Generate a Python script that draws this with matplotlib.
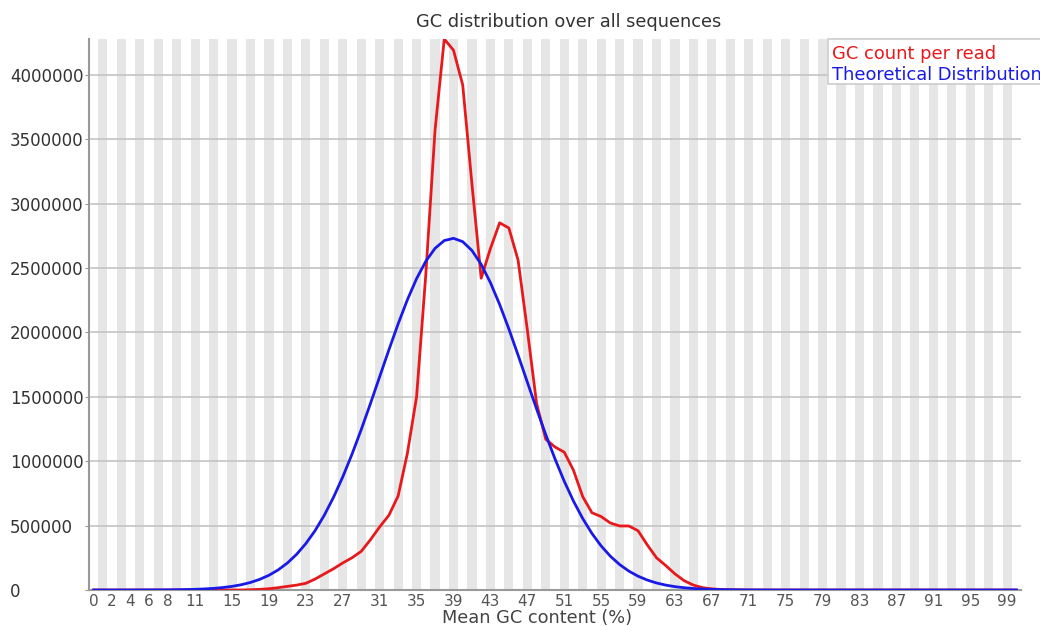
import numpy as np
import matplotlib
matplotlib.use("Agg")
import matplotlib.pyplot as plt
from matplotlib.patches import Rectangle

# mean GC content (%) categories 0..100
gc_pct = list(range(101))

# GC count per read (observed)
gc_count = [0] * 17 + [
    2000, 5000, 10000, 18000, 28000, 38000, 52000, 85000, 125000, 165000,      # 17-26
    210000, 250000, 300000, 390000, 490000, 580000, 730000, 1060000, 1500000,  # 27-35
    2450000, 3570000, 4277000, 4190000, 3920000, 3150000, 2420000, 2650000,    # 36-43
    2850000, 2810000, 2560000, 2020000, 1450000, 1170000, 1110000, 1070000,    # 44-51
    930000, 725000, 600000, 570000, 520000, 497000, 497000, 460000, 350000,    # 52-60
    250000, 190000, 125000, 72000, 38000, 18000, 9000, 4000, 2000, 1000,       # 61-70
] + [0] * 30

# theoretical distribution
theoretical = [
    0, 0, 0, 0, 100, 270, 470, 800, 1350, 2200,                                # 0-9
    3390, 5350, 8290, 12660, 19020, 28120, 40900, 58560, 82560, 114400,        # 10-19
    156000, 209600, 277000, 360400, 460800, 580700, 719900, 878200, 1053800,   # 20-28
    1244900, 1447200, 1655800, 1864300, 2065500, 2252200, 2416900, 2552000,    # 29-36
    2652200, 2712300, 2729800, 2703700, 2635300, 2527600, 2386000, 2216500,    # 37-44
    2026200, 1822800, 1614000, 1406300, 1205600, 1017500, 844700, 690400,      # 45-52
    555300, 439300, 342100, 262200, 197800, 146800, 107200, 77100, 54600,      # 53-61
    38000, 26000, 17500, 11600, 7600, 4900, 3100, 2000, 1200, 700, 400,        # 62-72
] + [0] * 28

xtick_pos = [0, 2, 4, 6, 8] + list(range(11, 100, 4))
ytick_pos = [0, 500000, 1000000, 1500000, 2000000, 2500000, 3000000, 3500000, 4000000]

plt.rcParams['font.family'] = ['DejaVu Sans']

fig = plt.figure(figsize=(10.4, 6.26), dpi=100)
ax = fig.add_axes([89/1040, 1 - 590/626, (1021-89)/1040, (590-39)/626])

# alternating stripes, odd categories shaded
for i in gc_pct:
    if i % 2 == 1:
        ax.axvspan(i - 0.5, i + 0.5, color='#e6e6e6', lw=0, zorder=0)

for y in ytick_pos[1:]:
    ax.axhline(y, color='#c4c4c4', lw=1.2, zorder=1)

ax.plot(gc_pct, gc_count, color='#e8191c', lw=2.0, zorder=3)
ax.plot(gc_pct, theoretical, color='#1a1ae6', lw=2.0, zorder=3)

ax.set_xlim(-0.5, 100.5)
ax.set_ylim(0, max(gc_count))

for s in ['top', 'right']:
    ax.spines[s].set_visible(False)
for s in ['left', 'bottom']:
    ax.spines[s].set_color('#999999')
    ax.spines[s].set_linewidth(1.5)

ax.set_xticks(xtick_pos)
ax.set_xticklabels([str(v) for v in xtick_pos])
ax.tick_params(axis='x', length=0, pad=3, labelsize=11, labelcolor='#555555')

ax.set_yticks(ytick_pos)
ax.set_yticklabels([str(v) for v in ytick_pos], ha='left')
ax.tick_params(axis='y', length=3, color='#999999', pad=54, labelsize=12, labelcolor='#333333')

fig.text(569/1040, 1 - 22/626, 'GC distribution over all sequences', ha='center', va='center',
         fontsize=12.8, color='#333333')
fig.text(537/1040, 1 - 618/626, 'Mean GC content (%)', ha='center', va='center',
         fontsize=12.8, color='#444444')

# legend box (runs off the right edge like the original)
fig.patches.append(Rectangle((828/1040, 1 - 84/626), 240/1040, 45/626, transform=fig.transFigure,
                             facecolor='white', edgecolor='#cccccc', lw=1.2, zorder=5))
fig.text(832/1040, 1 - 54/626, 'GC count per read', color='#e8191c', fontsize=12.9,
         ha='left', va='center', zorder=6)
fig.text(832/1040, 1 - 75/626, 'Theoretical Distribution', color='#1a1ae6', fontsize=12.9,
         ha='left', va='center', zorder=6)

fig.savefig('out.png', dpi=100)
